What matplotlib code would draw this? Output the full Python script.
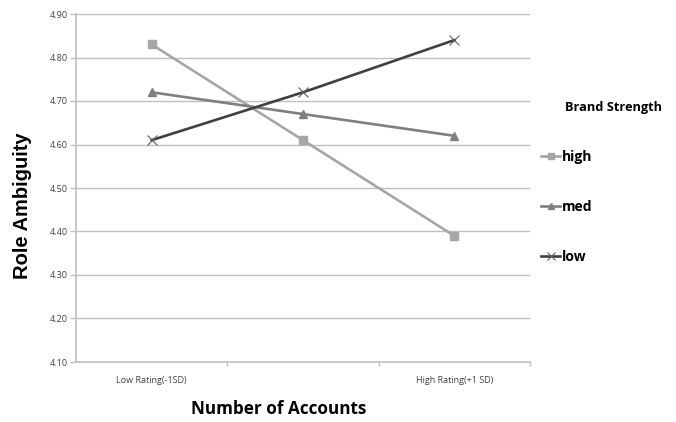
import matplotlib.pyplot as plt

categories = ["Low Rating(-1SD)", "", "High Rating(+1 SD)"]
high = [4.83, 4.61, 4.39]
med = [4.72, 4.67, 4.62]
low = [4.61, 4.72, 4.84]
yticks = [4.10, 4.20, 4.30, 4.40, 4.50, 4.60, 4.70, 4.80, 4.90]

fig = plt.figure(figsize=(6.76, 4.22), dpi=100)
ax = fig.add_axes([76 / 676, 60 / 422, 454 / 676, 348 / 422])

x = range(len(categories))
ax.plot(x, high, color="#A6A6A6", lw=1.9, marker="s", ms=5.5, label="high")
ax.plot(x, med, color="#7F7F7F", lw=1.9, marker="^", ms=6, label="med")
ax.plot(x, low, color="#404040", lw=1.9, marker="x", ms=7, mew=0.8,
        mec="#606060", label="low")

ax.set_xlim(-0.5, 2.5)
ax.set_ylim(4.10, 4.90)
ax.set_yticks(yticks)
ax.set_yticklabels([f"{v:.2f}" for v in yticks], fontsize=6.5,
                   family="Open Sans", color="#404040")
ax.set_xticks(list(x))
ax.set_xticklabels(categories, fontsize=6.5, family="Open Sans", color="#404040")
ax.tick_params(axis="x", length=0, pad=10)
ax.tick_params(axis="y", length=4, color="#BFBFBF", width=1, pad=2)
ax.set_xticks([0.5, 1.5, 2.5], minor=True)
ax.tick_params(axis="x", which="minor", length=3, color="#BFBFBF", width=1)

ax.grid(axis="y", color="#BFBFBF", lw=1)
ax.set_axisbelow(True)
for side in ["top", "right"]:
    ax.spines[side].set_visible(False)
ax.spines["left"].set_color("#BFBFBF")
ax.spines["bottom"].set_color("#BFBFBF")
ax.spines["left"].set_linewidth(1.2)
ax.spines["bottom"].set_linewidth(1.2)

fig.text(23 / 676, 1 - 206 / 422, "Role Ambiguity", rotation=90, ha="center",
         va="center", fontsize=14.5, fontweight="bold", family="Liberation Sans")
fig.text(279 / 676, 1 - 409 / 422, "Number of Accounts", ha="center",
         va="center", fontsize=12.3, fontweight="bold", family="Open Sans")

# legend title drawn separately so it lines up with the entry text
fig.text(565 / 676, 1 - 107 / 422, "Brand Strength", ha="left", va="center",
         fontsize=9.2, fontweight="bold", family="Open Sans")
leg = ax.legend(loc="upper left", bbox_to_anchor=(541 / 676, 1 - 150 / 422),
                bbox_transform=fig.transFigure, frameon=False,
                prop={"family": "Open Sans", "weight": "bold", "size": 10},
                labelspacing=2.58, handlelength=1.4, handletextpad=0.1,
                borderaxespad=0, borderpad=0, markerscale=0.8)

fig.savefig("out.png", dpi=100)
